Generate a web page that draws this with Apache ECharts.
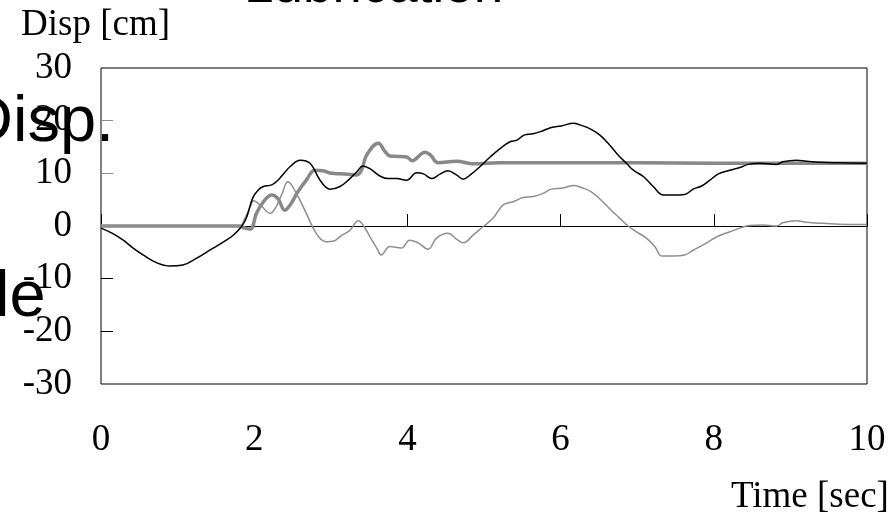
<!DOCTYPE html>
<html>
<head>
<meta charset="utf-8">
<script src="https://cdn.jsdelivr.net/npm/echarts@6/dist/echarts.min.js"></script>
<style>
  html, body { margin: 0; padding: 0; background: #fff; }
  #chart { width: 890px; height: 526px; }
</style>
</head>
<body>
<div id="chart"></div>
<script>
// Time axis ticks [sec] and displacement ticks [cm]
const timeTicks = [0, 2, 4, 6, 8, 10];
const dispTicks = [-30, -20, -10, 0, 10, 20, 30];

// Response displacement [cm] (black)
const blackTime = [0, 0.15, 0.29, 0.42, 0.55, 0.73, 0.9, 1.07, 1.25, 1.42, 1.6, 1.73, 1.84, 1.9, 1.98, 2.05, 2.12, 2.23, 2.31, 2.4, 2.47, 2.6, 2.73, 2.86, 2.99, 3.12, 3.25, 3.34, 3.42, 3.51, 3.64, 3.75, 3.86, 3.99, 4.12, 4.21, 4.32, 4.43, 4.53, 4.64, 4.73, 4.82, 4.95, 5.08, 5.21, 5.34, 5.43, 5.53, 5.64, 5.77, 5.88, 6.01, 6.17, 6.25, 6.38, 6.51, 6.64, 6.75, 6.86, 6.95, 7.08, 7.21, 7.34, 7.47, 7.62, 7.73, 7.84, 7.95, 8.06, 8.21, 8.34, 8.45, 8.6, 8.82, 8.9, 9.08, 9.21, 9.39, 9.65, 10];
const blackDisp = [-0.4, -1.4, -2.7, -4.2, -5.5, -7.0, -7.6, -7.4, -6.1, -4.6, -3.0, -1.7, 0, 1.6, 5.3, 6.8, 7.5, 7.8, 8.7, 10.2, 11.3, 12.5, 11.9, 8.7, 7.0, 7.5, 9.0, 10.3, 11.4, 10.9, 9.5, 9.0, 9.0, 8.7, 10.1, 9.9, 9.0, 9.9, 10.5, 9.7, 8.9, 9.7, 11.3, 13.1, 14.7, 16.0, 16.3, 17.3, 17.5, 18.1, 18.7, 19.0, 19.5, 19.2, 18.5, 17.3, 15.4, 13.5, 11.9, 10.6, 9.4, 7.5, 5.9, 5.9, 6.0, 7.0, 7.6, 8.7, 9.9, 10.6, 11.1, 11.7, 11.9, 11.7, 12.2, 12.5, 12.3, 12.1, 12.0, 11.9];

// Sliding displacement [cm] (thick grey)
const slideTime = [0, 0.5, 1.0, 1.5, 1.8, 1.88, 1.95, 2.03, 2.12, 2.23, 2.31, 2.4, 2.47, 2.57, 2.68, 2.79, 2.9, 3.01, 3.12, 3.25, 3.34, 3.4, 3.47, 3.62, 3.71, 3.77, 3.88, 3.99, 4.06, 4.23, 4.3, 4.4, 4.64, 4.86, 5.2, 6, 7, 8, 9, 10];
const slideDisp = [0, 0, 0, 0, 0, -0.4, -0.6, 2.4, 4.6, 5.9, 5.2, 3.0, 4.0, 6.5, 8.7, 10.6, 10.5, 10.0, 9.9, 9.8, 9.7, 10.6, 13.5, 15.7, 14.1, 13.3, 13.2, 13.1, 12.4, 14.0, 13.5, 12.0, 12.3, 11.8, 12.0, 12.0, 12.0, 11.9, 11.9, 11.9];

// Relative displacement [cm] (thin grey)
const relTime = [0, 1.0, 1.8, 1.88, 1.95, 1.99, 2.08, 2.21, 2.28, 2.36, 2.44, 2.55, 2.68, 2.81, 2.94, 3.05, 3.12, 3.25, 3.36, 3.42, 3.51, 3.6, 3.66, 3.77, 3.92, 4.03, 4.14, 4.27, 4.38, 4.53, 4.64, 4.73, 4.86, 4.99, 5.12, 5.25, 5.38, 5.51, 5.64, 5.77, 5.88, 6.03, 6.17, 6.27, 6.4, 6.53, 6.66, 6.77, 6.88, 6.99, 7.12, 7.23, 7.32, 7.47, 7.62, 7.73, 7.82, 7.93, 8.06, 8.21, 8.34, 8.47, 8.64, 8.82, 8.9, 9.08, 9.21, 9.43, 9.73, 10];
const relDisp = [0, 0, 0, 1.5, 3.7, 4.8, 4.0, 2.4, 3.5, 6.0, 8.4, 6.2, 2.4, -1.4, -3.0, -2.8, -2.0, -0.8, 1.0, 0.2, -2.0, -4.2, -5.5, -3.9, -4.2, -2.7, -3.2, -4.4, -2.3, -1.4, -2.5, -3.2, -1.7, -0.1, 1.5, 4.0, 4.6, 5.4, 5.6, 6.2, 7.0, 7.2, 7.7, 7.3, 6.5, 4.9, 3.0, 1.5, 0, -1.1, -2.3, -3.9, -5.7, -5.7, -5.5, -4.6, -3.9, -3.0, -1.9, -1.1, -0.4, 0.1, 0.2, 0, 0.6, 1.0, 0.7, 0.5, 0.3, 0.3];

const pairs = (xs, ys) => xs.map((x, i) => [x, ys[i]]);

const serif = 'Liberation Serif';

const chart = echarts.init(document.getElementById('chart'), null, { renderer: 'canvas' });

const valueAxisBase = {
  type: 'value',
  splitLine: { show: false },
  minorTick: { show: false }
};

chart.setOption({
  animation: false,
  backgroundColor: '#fff',
  grid: {
    left: 101, right: 23, top: 68, bottom: 142,
    show: true, borderColor: '#000', borderWidth: 1,
    backgroundColor: 'transparent',
    outerBoundsMode: 'none'
  },
  xAxis: [
    // bottom axis: labels only
    Object.assign({}, valueAxisBase, {
      min: timeTicks[0], max: timeTicks[timeTicks.length - 1], interval: 2,
      position: 'bottom',
      axisLine: { show: false, onZero: false },
      axisTick: { show: false },
      axisLabel: { show: true, margin: 38, fontSize: 37, fontFamily: serif, color: '#000' }
    }),
    // zero line with upward ticks
    Object.assign({}, valueAxisBase, {
      min: timeTicks[0], max: timeTicks[timeTicks.length - 1], interval: 2,
      position: 'top',
      axisLine: { show: true, onZero: true, lineStyle: { color: '#000', width: 1 } },
      axisTick: { show: true, inside: false, length: 12, lineStyle: { color: '#000', width: 1 } },
      axisLabel: { show: false }
    })
  ],
  yAxis: [
    Object.assign({}, valueAxisBase, {
      min: dispTicks[0], max: dispTicks[dispTicks.length - 1], interval: 10,
      position: 'left',
      axisLine: { show: false, onZero: false },
      axisTick: { show: true, inside: true, length: 12, customValues: [-20, -10], lineStyle: { color: '#000', width: 1 } },
      axisLabel: { show: true, margin: 29, fontSize: 37, fontFamily: serif, color: '#000' }
    }),
    Object.assign({}, valueAxisBase, {
      min: dispTicks[0], max: dispTicks[dispTicks.length - 1], interval: 10,
      position: 'left',
      axisLine: { show: false, onZero: false },
      axisTick: { show: true, inside: true, length: 12, customValues: [10, 20], lineStyle: { color: '#8c8c8c', width: 1 } },
      axisLabel: { show: false }
    })
  ],
  series: [
    {
      name: 'Sliding', type: 'line', xAxisIndex: 0, yAxisIndex: 0,
      data: pairs(slideTime, slideDisp), showSymbol: false, smooth: 0.4,
      lineStyle: { color: '#888888', width: 3.5 }, z: 3
    },
    {
      name: 'Relative', type: 'line', xAxisIndex: 0, yAxisIndex: 0,
      data: pairs(relTime, relDisp), showSymbol: false, smooth: 0.4,
      lineStyle: { color: '#8e8e8e', width: 1.5 }, z: 4
    },
    {
      name: 'Response', type: 'line', xAxisIndex: 0, yAxisIndex: 0,
      data: pairs(blackTime, blackDisp), showSymbol: false, smooth: 0.4,
      lineStyle: { color: '#000', width: 1.5 }, z: 5
    }
  ],
  graphic: [
    { type: 'text', z: 100, x: 244, y: -13,
      style: { text: 'Lubrication', font: '53px "Liberation Sans"', fill: '#000', textAlign: 'left', textVerticalAlign: 'middle' } },
    { type: 'text', z: 100, x: -34, y: 123,
      style: { text: 'Disp.', font: '65px "Liberation Sans"', fill: '#000', textAlign: 'left', textVerticalAlign: 'middle' } },
    { type: 'text', z: 100, x: -5, y: 298,
      style: { text: 'le', font: '65px "Liberation Sans"', fill: '#000', textAlign: 'left', textVerticalAlign: 'middle' } },
    { type: 'text', z: 100, x: 21, y: 25,
      style: { text: 'Disp [cm]', font: '37px "Liberation Serif"', fill: '#000', textAlign: 'left', textVerticalAlign: 'middle' } },
    { type: 'text', z: 100, x: 731, y: 497,
      style: { text: 'Time [sec]', font: '37px "Liberation Serif"', fill: '#000', textAlign: 'left', textVerticalAlign: 'middle' } }
  ]
});
</script>
</body>
</html>
